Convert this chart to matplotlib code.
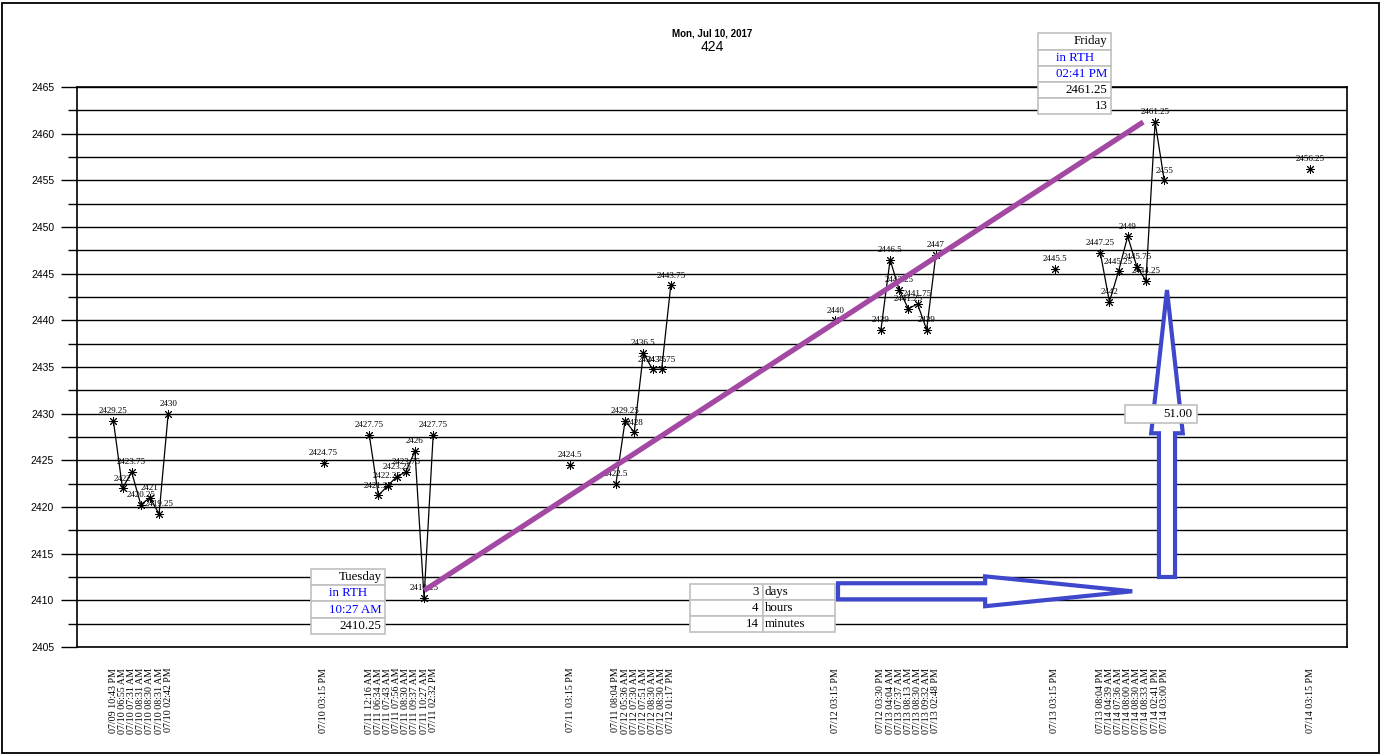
import numpy as np
import matplotlib
matplotlib.use('Agg')
from matplotlib import pyplot as plt
from matplotlib.patches import Polygon, Rectangle

# 时间标签（类别轴上的位置有空档）
times = ['07/09 10:43 PM', '07/10 06:55 AM', '07/10 07:31 AM', '07/10 08:31 AM',
         '07/10 08:30 AM', '07/10 08:31 AM', '07/10 02:42 PM',
         '07/10 03:15 PM',
         '07/11 12:16 AM', '07/11 06:34 AM', '07/11 07:43 AM', '07/11 07:56 AM',
         '07/11 08:30 AM', '07/11 09:37 AM', '07/11 10:27 AM', '07/11 02:32 PM',
         '07/11 03:15 PM',
         '07/11 08:04 PM', '07/12 05:36 AM', '07/12 07:30 AM', '07/12 07:51 AM',
         '07/12 08:30 AM', '07/12 08:30 AM', '07/12 01:17 PM',
         '07/12 03:15 PM',
         '07/12 03:30 PM', '07/13 04:04 AM', '07/13 07:37 AM', '07/13 08:13 AM',
         '07/13 08:30 AM', '07/13 09:32 AM', '07/13 02:48 PM',
         '07/13 03:15 PM',
         '07/13 08:04 PM', '07/14 04:39 AM', '07/14 07:36 AM', '07/14 08:00 AM',
         '07/14 08:30 AM', '07/14 08:33 AM', '07/14 02:41 PM', '07/14 03:00 PM',
         '07/14 03:15 PM']
slots = [0, 1, 2, 3, 4, 5, 6,
         23,
         28, 29, 30, 31, 32, 33, 34, 35,
         50,
         55, 56, 57, 58, 59, 60, 61,
         79,
         84, 85, 86, 87, 88, 89, 90,
         103,
         108, 109, 110, 111, 112, 113, 114, 115,
         131]
prices = [2429.25, 2422, 2423.75, 2420.25, 2421, 2419.25, 2430,
          2424.75,
          2427.75, 2421.25, 2422.25, 2423.25, 2423.75, 2426, 2410.25, 2427.75,
          2424.5,
          2422.5, 2429.25, 2428, 2436.5, 2434.75, 2434.75, 2443.75,
          2440,
          2439, 2446.5, 2443.25, 2441.25, 2441.75, 2439, 2447,
          2445.5,
          2447.25, 2442, 2445.25, 2449, 2445.75, 2444.25, 2461.25, 2455,
          2456.25]
segments = [1] * 7 + [2] + [3] * 8 + [4] + [5] * 7 + [6] + [7] * 7 + [8] + [9] * 8 + [10]

title_date = 'Mon, Jul 10, 2017'
title_num = '424'

low_box = [('Tuesday', 'black', 'right'), ('in RTH', 'blue', 'center'),
           ('10:27 AM', 'blue', 'right'), ('2410.25', 'black', 'right')]
high_box = [('Friday', 'black', 'right'), ('in RTH', 'blue', 'center'),
            ('02:41 PM', 'blue', 'right'), ('2461.25', 'black', 'right'),
            ('13', 'black', 'right')]
span_nums = ['3', '4', '14']
span_units = ['days', 'hours', 'minutes']
move_text = '51.00'

ROW_H = 1.736  # 一行表格的高度（数据单位）
BLUE = '#3f48cc'


def draw_box(ax, x0, x1, ytop, rows):
    for r, (txt, col, ha) in enumerate(rows):
        yt = ytop - r * ROW_H
        ax.add_patch(Rectangle((x0, yt - ROW_H), x1 - x0, ROW_H, facecolor='white',
                               edgecolor='#c0c0c0', lw=1.2, zorder=6, clip_on=False))
        if ha == 'right':
            tx = x1 - 0.4
        elif ha == 'left':
            tx = x0 + 0.2
        else:
            tx = (x0 + x1) / 2
        ax.text(tx, yt - ROW_H / 2, txt, color=col, ha=ha, va='center',
                family='Liberation Serif', fontsize=9.3, zorder=7, clip_on=False)


if __name__ == '__main__':
    fig = plt.figure(figsize=(13.82, 7.54), dpi=100)
    ax = fig.add_axes([77 / 1382, 107 / 754, 1270 / 1382, 560 / 754])

    slots_a = np.array(slots)
    prices_a = np.array(prices)
    seg_a = np.array(segments)

    # 网格线
    ax.set_ylim(2405, 2465)
    ax.set_xlim(-3.98, 135.0)
    ax.set_yticks(np.arange(2405, 2466, 5))
    ax.set_yticks(np.arange(2407.5, 2465, 5), minor=True)
    ax.grid(True, which='both', axis='y', color='black', lw=1)
    ax.set_axisbelow(True)
    ax.tick_params(axis='y', which='major', length=11.5, width=1, pad=5, labelsize=7.5)
    ax.tick_params(axis='y', which='minor', length=6.5, width=1)
    for lab in ax.get_yticklabels():
        lab.set_family('Liberation Sans')
    ax.set_xticks(slots)
    ax.set_xticklabels(times, rotation=90, family='Liberation Serif', fontsize=7.2)
    ax.tick_params(axis='x', length=0, pad=15)
    for sp in ax.spines.values():
        sp.set_linewidth(1.2)

    # 价格折线，按段分开画
    for s in np.unique(seg_a):
        m = seg_a == s
        ax.plot(slots_a[m], prices_a[m], color='black', lw=0.9,
                marker=(8, 2, 0), markersize=6.5, markeredgewidth=0.7, zorder=3)
    for x, y in zip(slots, prices):
        ax.annotate(f'{y:g}', (x, y), xytext=(0, 4), textcoords='offset points',
                    ha='center', va='bottom', family='Liberation Serif', fontsize=6.5,
                    zorder=4)

    # 从最低点到最高点的趋势线
    i_lo = int(np.argmin(prices_a))
    i_hi = int(np.argmax(prices_a))
    ax.plot([slots[i_lo], slots[i_hi] - 1.3], [prices[i_lo] + 0.8, prices[i_hi]],
            color='#a349a4', lw=3.8, solid_capstyle='butt', zorder=5)

    # 时间跨度箭头（横向）和价格变化箭头（纵向）
    yc, sh, hh = 2410.97, 0.86, 1.6
    xs, xh, xt = 79.3, 95.4, 111.5
    ax.add_patch(Polygon([(xs, yc - sh), (xh, yc - sh), (xh, yc - hh), (xt, yc),
                          (xh, yc + hh), (xh, yc + sh), (xs, yc + sh)], closed=True,
                         facecolor='white', edgecolor=BLUE, lw=3, joinstyle='miter', zorder=5))
    xc, sw, hw = 115.3, 0.88, 1.73
    yb, yh, ytip = 2412.5, 2427.9, 2443.25
    ax.add_patch(Polygon([(xc - sw, yb), (xc + sw, yb), (xc + sw, yh), (xc + hw, yh),
                          (xc, ytip), (xc - hw, yh), (xc - sw, yh)], closed=True,
                         facecolor='white', edgecolor=BLUE, lw=3, joinstyle='miter', zorder=5))

    # 说明表格
    draw_box(ax, 21.66, 29.77, 2413.35, low_box)
    draw_box(ax, 101.2, 109.2, 2470.75, high_box)
    for r in range(3):
        yt = 2411.8 - r * ROW_H
        ax.add_patch(Rectangle((63.1, yt - ROW_H), 71.1 - 63.1, ROW_H, facecolor='white',
                               edgecolor='#c0c0c0', lw=1.2, zorder=6))
        ax.add_patch(Rectangle((71.1, yt - ROW_H), 79.0 - 71.1, ROW_H, facecolor='white',
                               edgecolor='#c0c0c0', lw=1.2, zorder=6))
        ax.text(71.1 - 0.5, yt - ROW_H / 2, span_nums[r], ha='right', va='center',
                family='Liberation Serif', fontsize=9.3, zorder=7)
        ax.text(71.1 + 0.15, yt - ROW_H / 2, span_units[r], ha='left', va='center',
                family='Liberation Serif', fontsize=9.3, zorder=7)
    ax.add_patch(Rectangle((110.66, 2429.03), 118.6 - 110.66, 1.9, facecolor='white',
                           edgecolor='#c0c0c0', lw=1.2, zorder=6))
    ax.text(118.6 - 0.5, 2429.98, move_text, ha='right', va='center',
            family='Liberation Serif', fontsize=9.3, zorder=7)

    # 标题
    fig.text(712 / 1382, 1 - 33 / 754, title_date, ha='center', va='center',
             family='Liberation Sans', fontsize=7, fontweight='bold')
    fig.text(712 / 1382, 1 - 47 / 754, title_num, ha='center', va='center',
             family='Liberation Sans', fontsize=10)

    # 外框
    fig.patches.append(Rectangle((1.5 / 1382, 1.5 / 754), 1377 / 1382, 750 / 754,
                                 transform=fig.transFigure, fill=False, lw=1.3,
                                 edgecolor='black'))

    fig.savefig('out.png', dpi=100)
    plt.close(fig)
